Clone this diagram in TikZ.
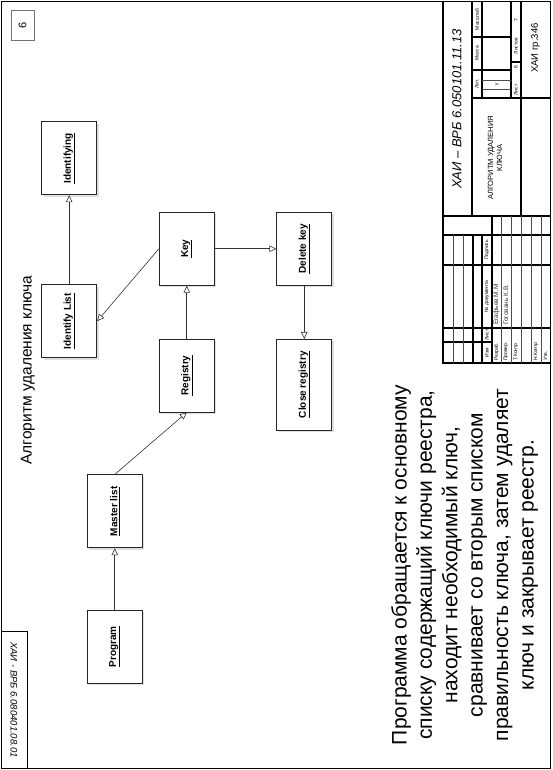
\documentclass[tikz,border=0pt]{standalone}
\usepackage{fontspec}
\setmainfont{Liberation Sans}
\usetikzlibrary{arrows.meta,shadows}

\begin{document}
\begin{tikzpicture}[x=1pt,y=1pt,rotate=90,transform shape,
    block/.style={draw=black!85,line width=0.8pt,fill=white,inner sep=0pt,
      minimum width=73pt,minimum height=55pt,
      drop shadow={shadow xshift=2pt,shadow yshift=-2pt,fill=black!25},
      font=\fontsize{10}{12}\selectfont\bfseries},
    link/.style={draw=black!80,line width=0.6pt,-{Triangle[open,length=7pt,width=6.5pt]}},
    stampthick/.style={line width=1.1pt},
    stampthin/.style={line width=0.4pt,black!70},
    stamptiny/.style={inner sep=0pt,font=\fontsize{5}{6}\selectfont},
    stampname/.style={inner sep=0pt,font=\fontsize{6.5}{8}\selectfont,black!80}]
  \useasboundingbox (0,0) rectangle (770,552);
  % sheet frame
  \draw[line width=1.5pt] (1.5,1.5) rectangle (768.5,550.5);
  \draw[line width=1pt] (2,524) -- (138,524) -- (138,550.5);
  \node[rotate=180,font=\itshape\fontsize{9.5}{11}\selectfont] (code) at (70,538) {ХАИ - ВРБ 6.080401.08.01};
  \node[draw=black!55,line width=0.6pt,minimum width=30pt,minimum height=23pt,
    font=\fontsize{11}{13}\selectfont] (sheetno) at (745,529.5) {6};

  % diagram
  \node[font=\fontsize{15.5}{18}\selectfont] (title) at (400,524) {Алгоритм удаления ключа};
  \node[block] (prog) at (123.3,437.2) {\underline{Program}};
  \node[block] (master) at (258.7,437.2) {\underline{Master list}};
  \node[block] (reg) at (394.5,365.2) {\underline{Registry}};
  \node[block] (key) at (521.2,365.2) {\underline{Key}};
  \node[block] (identlist) at (448.8,482.8) {\underline{Identify List}};
  \node[block] (ident) at (611.7,482.8) {\underline{Identifying}};
  \node[block] (delkey) at (521.2,247.7) {\underline{Delete key}};
  \node[block,minimum width=90.7pt] (closereg) at (385.3,247.7) {\underline{Close registry}};
  \draw[link] (prog) -- (master);
  \draw[link] (master.east) -- (reg.west);
  \draw[link] (reg) -- (key);
  \draw[link] (key.north) -- (identlist.south);
  \draw[link] (identlist) -- (ident);
  \draw[link] (key) -- (delkey);
  \draw[link] (delkey) -- (closereg);

  \node[align=center,font=\fontsize{21}{25.4}\selectfont] (descr) at (205,87.5)
    {Программа обращается к основному\\списку содержащий ключи реестра,\\находит необходимый ключ,\\сравнивает со вторым списком\\правильность ключа, затем удаляет\\ключ и закрывает реестр.};

  % title block
  \draw[stampthick] (407,2) -- (407,109) -- (768,109);
  \draw[stampthick] (428,60) -- (428,109);
  \draw[stampthick] (442,2) -- (442,109);
  \draw[stampthick] (505,2) -- (505,109);
  \draw[stampthick] (535,2) -- (535,109);
  \draw[stampthick] (554,2) -- (554,109);
  \foreach \y in {99,89} \draw[stampthin] (407,\y) -- (535,\y);
  \foreach \y in {79,70} \draw[stampthick] (407,\y) -- (535,\y);
  \draw[stampthick] (407,60) -- (554,60);
  \foreach \y in {51,41,31,21,11} \draw[stampthin] (407,\y) -- (554,\y);
  \draw[stampthick] (554,80) -- (768,80);
  \draw[stampthick] (672,2) -- (672,80);
  \draw[stampthick] (672,70) -- (768,70);
  \draw[stampthick] (672,41) -- (768,41);
  \draw[stampthick] (554,31) -- (768,31);
  \draw[stampthick] (700,41) -- (700,80);
  \draw[stampthick] (733,41) -- (733,80);
  \draw[stampthick] (708,31) -- (708,41);
  \draw[stampthin] (681,41) -- (681,70);
  \draw[stampthin] (690,41) -- (690,70);

  \node[stamptiny] (hizm) at (417.5,65) {Изм};
  \node[stamptiny] (hlist) at (435,65) {Лист};
  \node[stamptiny] (hdoc) at (473.5,65) {№ документа};
  \node[stamptiny] (hsign) at (520,65) {Подпись};
  \node[stamptiny,anchor=west] (rdev) at (409,55.5) {Разраб.};
  \node[stamptiny,anchor=west] (rchk) at (409,46) {Провер.};
  \node[stamptiny,anchor=west] (rtk) at (409,36) {Т.Контр};
  \node[stamptiny,anchor=west] (rnk) at (409,16) {Н.Контр};
  \node[stamptiny,anchor=west] (rapp) at (409,6.5) {Утв.};
  \node[stampname,anchor=west] (ndev) at (445,55.5) {Егафьев М.М};
  \node[stampname,anchor=west] (nchk) at (445,46) {Гоговань К.В.};

  \node[font=\itshape\fontsize{13}{15}\selectfont] (docid) at (661,95) {ХАИ – ВРБ 6.050101.11.13};
  \node[align=center,font=\fontsize{7.5}{9}\selectfont] (docname) at (612,57) {АЛГОРИТМ УДАЛЕНИЯ\\КЛЮЧА};
  \node[stamptiny] (hlit) at (686,75) {Лит.};
  \node[stamptiny] (hmass) at (716.5,75) {Масса};
  \node[stamptiny] (hscale) at (750.5,75) {Масштаб};
  \node[stamptiny] (vlit) at (685.5,55) {у};
  \node[stamptiny] (hsheet) at (680,36) {Лист};
  \node[stamptiny] (vsheet) at (703,36) {6};
  \node[stamptiny] (hsheets) at (724,36) {Листов};
  \node[stamptiny] (vsheets) at (750,36) {7};
  \node[font=\fontsize{9.5}{11}\selectfont] (org) at (722,16.5) {ХАИ гр.346};
\end{tikzpicture}
\end{document}
